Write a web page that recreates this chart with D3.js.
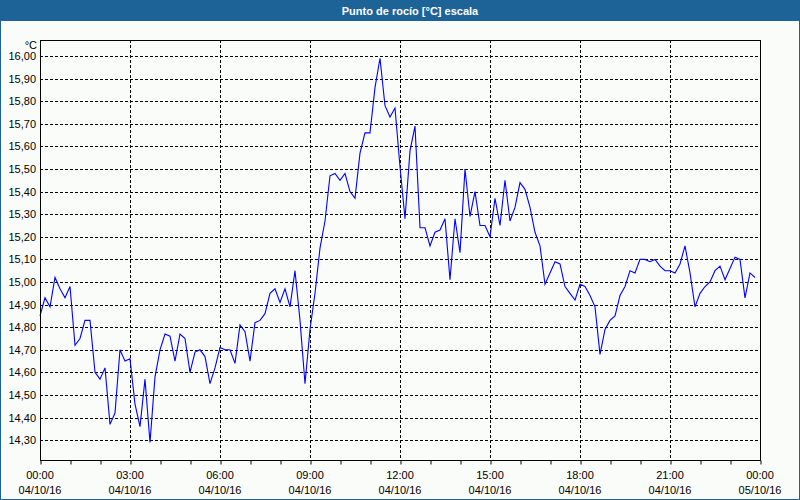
<!DOCTYPE html>
<html><head><meta charset="utf-8">
<script src="https://cdn.jsdelivr.net/npm/d3@7"></script>
<style>
html,body{margin:0;padding:0;background:#fafcfa;}
svg{display:block;}
text{font-family:"Liberation Sans",Arial,sans-serif;}
</style></head>
<body>
<svg id="chart" width="800" height="500"></svg>
<script>
const title = "Punto de rocío [°C] escala";
const unit = "°C";
const startTime = "2016-10-04T00:00:00";
const stepMinutes = 10;
// dew point values every 10 minutes, 00:00 to 23:50
const dewPoint = [
  14.85, 14.93, 14.89, 15.02, 14.97, 14.93,
  14.98, 14.72, 14.75, 14.83, 14.83, 14.60,
  14.57, 14.62, 14.37, 14.42, 14.70, 14.65,
  14.66, 14.46, 14.36, 14.57, 14.29, 14.58,
  14.70, 14.77, 14.76, 14.65, 14.77, 14.75,
  14.60, 14.69, 14.70, 14.67, 14.55, 14.62,
  14.71, 14.70, 14.70, 14.64, 14.81, 14.78,
  14.65, 14.82, 14.83, 14.86, 14.95, 14.97,
  14.91, 14.97, 14.89, 15.05, 14.83, 14.55,
  14.79, 14.95, 15.15, 15.27, 15.47, 15.48,
  15.45, 15.48, 15.40, 15.37, 15.57, 15.66,
  15.66, 15.86, 15.99, 15.78, 15.73, 15.77,
  15.51, 15.28, 15.58, 15.69, 15.24, 15.24,
  15.16, 15.22, 15.23, 15.28, 15.01, 15.28,
  15.13, 15.50, 15.29, 15.40, 15.25, 15.25,
  15.20, 15.37, 15.25, 15.45, 15.27, 15.33,
  15.44, 15.41, 15.33, 15.22, 15.16, 14.99,
  15.04, 15.09, 15.08, 14.98, 14.95, 14.92,
  14.99, 14.98, 14.94, 14.89, 14.68, 14.79,
  14.83, 14.85, 14.94, 14.98, 15.05, 15.04,
  15.10, 15.10, 15.09, 15.10, 15.07, 15.05,
  15.05, 15.04, 15.08, 15.16, 15.04, 14.89,
  14.95, 14.98, 15.00, 15.05, 15.07, 15.01,
  15.06, 15.11, 15.10, 14.93, 15.04, 15.02
];
const yTicks = [14.3,14.4,14.5,14.6,14.7,14.8,14.9,15.0,15.1,15.2,15.3,15.4,15.5,15.6,15.7,15.8,15.9,16.0];
const xTickHours = [0,3,6,9,12,15,18,21,24];

const svg = d3.select("#chart");
const W = 800, H = 500;
const m = {left:40, right:40, top:40, bottom:40};
const t0 = new Date(startTime);
const times = dewPoint.map((d,i)=> new Date(t0.getTime() + i*stepMinutes*60000));
const tEnd = new Date(t0.getTime() + 24*3600000);

const x = d3.scaleTime().domain([t0, tEnd]).range([m.left, W - m.right]);
// 16.00 at y=56, 0.1 per 22.6px
const y = d3.scaleLinear().domain([14.3, 16.0]).range([440.2, 56]);

// background + frame
svg.append("rect").attr("x",0).attr("y",0).attr("width",W).attr("height",H).attr("fill","#fafcfa");
svg.append("rect").attr("x",0).attr("y",0).attr("width",W).attr("height",21).attr("fill","#1d6397");
svg.append("rect").attr("x",0.5).attr("y",0.5).attr("width",W-1).attr("height",H-1)
  .attr("fill","none").attr("stroke","#1d6397").attr("stroke-width",1);
svg.append("text").attr("x",410).attr("y",15).attr("text-anchor","middle")
  .attr("fill","#fff").attr("font-weight","bold").attr("font-size","11px").text(title);

// grid
const grid = svg.append("g").attr("stroke","#000").attr("stroke-width",1).attr("stroke-dasharray","3,2");
yTicks.forEach(v=>{
  const yy = Math.round(y(v))+0.5;
  grid.append("line").attr("x1",m.left).attr("x2",W-m.right).attr("y1",yy).attr("y2",yy);
});
xTickHours.slice(1,-1).forEach(h=>{
  const xx = Math.round(x(new Date(t0.getTime()+h*3600000)))+0.5;
  grid.append("line").attr("x1",xx).attr("x2",xx).attr("y1",m.top).attr("y2",H-m.bottom);
});

// line
const line = d3.line().x((d,i)=>x(times[i])).y(d=>y(d));
svg.append("path").datum(dewPoint).attr("d",line).attr("fill","none")
  .attr("stroke","#0000ff").attr("stroke-width",1.1);

// plot frame
svg.append("rect").attr("x",m.left+0.5).attr("y",m.top+0.5)
  .attr("width",W-m.left-m.right).attr("height",H-m.top-m.bottom)
  .attr("fill","none").attr("stroke","#000").attr("stroke-width",1);

// y axis labels
const yAxis = d3.axisLeft(y).tickValues(yTicks).tickSize(0).tickPadding(4)
  .tickFormat(d=> d3.format(".2f")(d).replace(".",","));
const gy = svg.append("g").attr("transform",`translate(${m.left},0)`).call(yAxis);
gy.select(".domain").remove();
gy.selectAll("text").attr("font-size","11px").attr("fill","#000")
  .style("font-family","'Liberation Sans',Arial,sans-serif");
svg.append("text").attr("x",37).attr("y",49).attr("text-anchor","end")
  .attr("font-size","11px").attr("fill","#000").text(unit);

// x axis: hourly minor ticks, labels every 3h
const hourTicks = d3.range(0,25).map(h=> new Date(t0.getTime()+h*3600000));
const xAxis = d3.axisBottom(x).tickValues(hourTicks).tickSize(4).tickFormat("");
const gx = svg.append("g").attr("transform",`translate(0.5,${H-m.bottom+0.5})`).call(xAxis);
gx.select(".domain").remove();
gx.selectAll("line").attr("stroke","#000");
const fmtT = d3.timeFormat("%H:%M"), fmtD = d3.timeFormat("%d/%m/%y");
xTickHours.forEach(h=>{
  const d = new Date(t0.getTime()+h*3600000);
  const g = svg.append("g").attr("transform",`translate(${x(d)},0)`);
  g.append("text").attr("y",479).attr("text-anchor","middle").attr("font-size","11px").attr("fill","#000").text(fmtT(d));
  g.append("text").attr("y",494).attr("text-anchor","middle").attr("font-size","11px").attr("fill","#000").text(fmtD(d));
});
</script>
</body></html>
